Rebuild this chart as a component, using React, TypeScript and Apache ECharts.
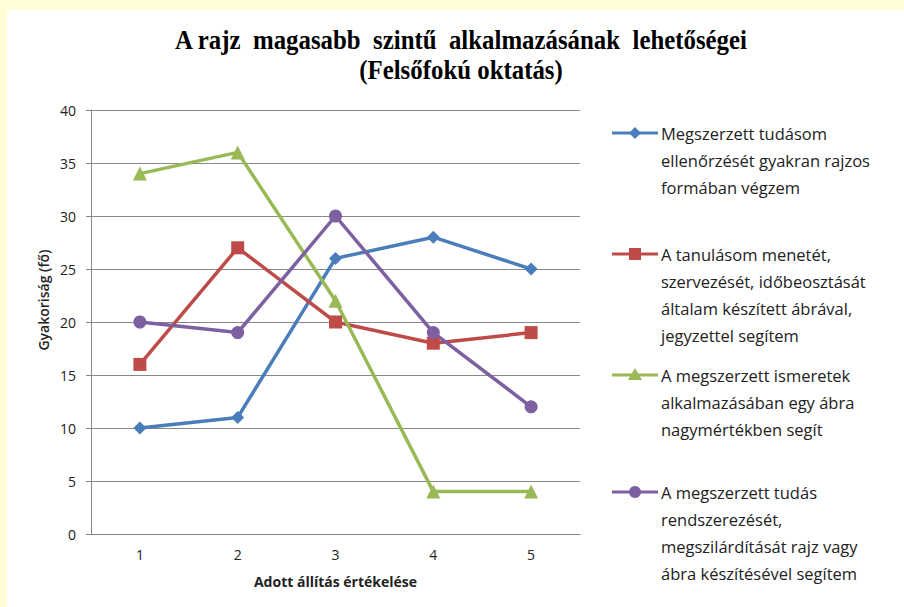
import { useEffect, useRef } from "react";
import * as echarts from "echarts";

const categories = ["1", "2", "3", "4", "5"];
const seriesNames = [
  "Megszerzett tudásom ellenőrzését gyakran rajzos formában végzem",
  "A tanulásom menetét, szervezését, időbeosztását általam készített ábrával, jegyzettel segítem",
  "A megszerzett ismeretek alkalmazásában egy ábra nagymértékben segít",
  "A megszerzett tudás rendszerezését, megszilárdítását rajz vagy ábra készítésével segítem",
];
const legendLines = [
  ["Megszerzett tudásom", "ellenőrzését gyakran rajzos", "formában végzem"],
  ["A tanulásom menetét,", "szervezését, időbeosztását", "általam készített ábrával,", "jegyzettel segítem"],
  ["A megszerzett ismeretek", "alkalmazásában egy ábra", "nagymértékben segít"],
  ["A megszerzett tudás", "rendszerezését,", "megszilárdítását rajz vagy", "ábra készítésével segítem"],
];
const blueValues = [10, 11, 26, 28, 25];
const redValues = [16, 27, 20, 18, 19];
const greenValues = [34, 36, 22, 4, 4];
const purpleValues = [20, 19, 30, 19, 12];
const titleLines = ["A rajz  magasabb  szintű  alkalmazásának  lehetőségei", "(Felsőfokú oktatás)"];
const yAxisTitle = "Gyakoriság (fő)";
const xAxisTitle = "Adott állítás értékelése";

const colors = ["#4A7EBB", "#BE4B48", "#98B954", "#7D60A0"];
const symbols = ["diamond", "rect", "triangle", "circle"];
const symbolSizes = [13, 13, 14, 13];
const legendTops = [133, 254, 375, 492];
const textFont = "'Open Sans', sans-serif";
const titleFont = "bold 27px 'Liberation Serif', serif";

function legendGraphics() {
  const out: any[] = [];
  legendTops.forEach((y, i) => {
    const c = colors[i];
    out.push({ type: "line", shape: { x1: 612, y1: y, x2: 658, y2: y }, style: { stroke: c, lineWidth: 3 } });
    const mx = 635;
    if (i === 0) {
      out.push({ type: "polygon", shape: { points: [[mx, y - 6], [mx + 6, y], [mx, y + 6], [mx - 6, y]] }, style: { fill: c } });
    } else if (i === 1) {
      out.push({ type: "rect", shape: { x: mx - 6, y: y - 6, width: 12, height: 12 }, style: { fill: c } });
    } else if (i === 2) {
      out.push({ type: "polygon", shape: { points: [[mx, y - 7], [mx + 7, y + 5], [mx - 7, y + 5]] }, style: { fill: c } });
    } else {
      out.push({ type: "circle", shape: { cx: mx, cy: y, r: 6 }, style: { fill: c } });
    }
    legendLines[i].forEach((t, j) => {
      out.push({
        type: "text",
        x: 661,
        y: y + j * 27,
        style: { text: t, fill: "#222", font: `16.5px ${textFont}`, textAlign: "left", textVerticalAlign: "middle", verticalAlign: "middle" },
      });
    });
  });
  return out;
}

export default function App() {
  const ref = useRef<HTMLDivElement>(null);
  useEffect(() => {
    if (!ref.current) return;
    const chart = echarts.init(ref.current, null, { renderer: "svg" });
    const valuesList = [blueValues, redValues, greenValues, purpleValues];
    chart.setOption({
      animation: false,
      backgroundColor: "#FFFDD6",
      grid: { left: 91, right: 324, top: 110, bottom: 73 },
      xAxis: {
        type: "category",
        data: categories,
        boundaryGap: true,
        axisLine: { lineStyle: { color: "#888", width: 1 } },
        axisTick: { inside: true, length: 5, lineStyle: { color: "#888" } },
        axisLabel: { color: "#222", fontSize: 14, fontFamily: textFont, margin: 13 },
        name: xAxisTitle,
        nameLocation: "middle",
        nameGap: 40,
        nameTextStyle: { color: "#222", fontSize: 14, fontWeight: "bold", fontFamily: textFont },
      },
      yAxis: {
        type: "value",
        min: 0,
        max: 40,
        interval: 5,
        axisLine: { show: true, lineStyle: { color: "#888", width: 1 } },
        axisTick: { show: true, length: 5, lineStyle: { color: "#888" } },
        splitLine: { lineStyle: { color: "#888", width: 1 } },
        axisLabel: { color: "#222", fontSize: 14, fontFamily: textFont, margin: 15 },
      },
      graphic: [
        { type: "rect", z: -10, shape: { x: 7, y: 10, width: 897, height: 597 }, style: { fill: "#fff" } },
        {
          type: "text",
          x: 461,
          y: 40,
          scaleX: 0.92,
          style: { text: titleLines[0], fill: "#000", font: titleFont, textAlign: "center", textVerticalAlign: "middle", verticalAlign: "middle" },
        },
        {
          type: "text",
          x: 461,
          y: 70,
          scaleX: 0.92,
          style: { text: titleLines[1], fill: "#000", font: titleFont, textAlign: "center", textVerticalAlign: "middle", verticalAlign: "middle" },
        },
        {
          type: "text",
          x: 43,
          y: 300,
          rotation: Math.PI / 2,
          style: { text: yAxisTitle, fill: "#222", font: `600 14px ${textFont}`, textAlign: "center", textVerticalAlign: "middle", verticalAlign: "middle" },
        },
        ...legendGraphics(),
      ],
      series: valuesList.map((vals, i) => ({
        type: "line",
        name: seriesNames[i],
        data: vals,
        symbol: symbols[i],
        symbolSize: symbolSizes[i],
        lineStyle: { color: colors[i], width: 3.5 },
        itemStyle: { color: colors[i] },
      })),
    });
    return () => chart.dispose();
  }, []);
  return <div ref={ref} style={{ position: "fixed", left: 0, top: 0, width: 904, height: 607 }} />;
}
